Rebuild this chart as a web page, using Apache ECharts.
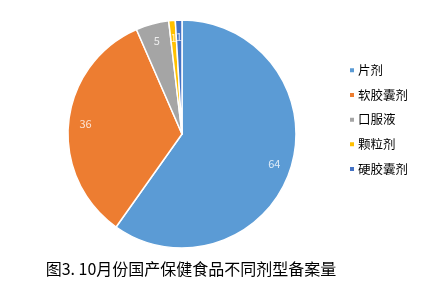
<!DOCTYPE html>
<html>
<head>
<meta charset="utf-8">
<script src="https://cdn.jsdelivr.net/npm/echarts@6/dist/echarts.min.js"></script>
<style>
  html, body { margin: 0; padding: 0; background: #fff; }
  #chart { width: 425px; height: 296px; }
</style>
</head>
<body>
<div id="chart"></div>
<script>
// Dosage forms and filing counts
const categories = ['片剂', '软胶囊剂', '口服液', '颗粒剂', '硬胶囊剂'];
const values = [64, 36, 5, 1, 1];
const colors = ['#5B9BD5', '#ED7D31', '#A5A5A5', '#FFC000', '#4472C4'];
const titleText = '图3. 10月份国产保健食品不同剂型备案量';

const FONT = '"Noto Sans CJK SC", "Microsoft YaHei", sans-serif';
const center = [182, 134];
const outerR = 114;
const labelRadius = 0.85; // value labels sit near the rim, as a fraction of the radius

const total = values.reduce((a, b) => a + b, 0);

// angle (in value units) at the middle of each slice
let running = 0;
const labelPoints = values.map((v) => {
  const mid = running + v / 2;
  running += v;
  return { value: [labelRadius, mid], label: { formatter: String(v) } };
});

const pieData = categories.map((name, i) => ({
  name: name,
  value: values[i],
  itemStyle: { color: colors[i] }
}));

const chart = echarts.init(document.getElementById('chart'), null, { renderer: 'canvas' });
chart.setOption({
  backgroundColor: '#ffffff',
  animation: false,
  title: {
    text: titleText,
    left: 186,
    textAlign: 'center',
    top: 256,
    textStyle: { fontFamily: FONT, fontSize: 16, fontWeight: 'normal', color: '#000' }
  },
  legend: {
    data: categories,
    orient: 'vertical',
    left: 343,
    top: 59,
    itemWidth: 6,
    itemHeight: 6,
    itemGap: 12.2,
    icon: 'rect',
    textStyle: { fontFamily: FONT, fontSize: 12.5, color: '#000', padding: [0, 0, 0, -2] }
  },
  polar: { center: center, radius: outerR },
  angleAxis: {
    type: 'value', min: 0, max: total, startAngle: 90, clockwise: true,
    show: false
  },
  radiusAxis: { type: 'value', min: 0, max: 1, show: false },
  series: [
    {
      type: 'pie',
      center: center,
      radius: [0, outerR],
      startAngle: 90,
      clockwise: true,
      avoidLabelOverlap: false,
      label: { show: false },
      labelLine: { show: false },
      itemStyle: { borderColor: '#ffffff', borderWidth: 1.5 },
      emphasis: { disabled: true },
      data: pieData
    },
    {
      // value labels
      type: 'scatter',
      coordinateSystem: 'polar',
      symbolSize: 0,
      silent: true,
      label: {
        show: true,
        position: 'inside',
        color: '#ffffff',
        fontFamily: FONT,
        fontSize: 11
      },
      labelLayout: { hideOverlap: false },
      emphasis: { disabled: true },
      data: labelPoints
    }
  ]
});
</script>
</body>
</html>
